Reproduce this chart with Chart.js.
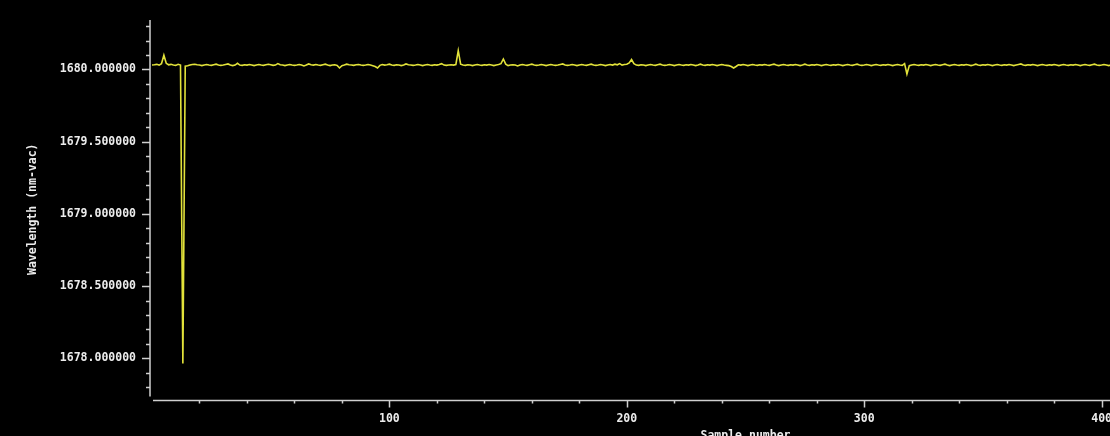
<!DOCTYPE html>
<html>
<head>
<meta charset="utf-8">
<script src="https://cdn.jsdelivr.net/npm/chart.js@4"></script>
<style>
  html, body { margin: 0; padding: 0; background: #000; overflow: hidden; }
  #wrap { width: 1353px; height: 444px; }
</style>
</head>
<body>
<div id="wrap"><canvas id="wave" width="1353" height="444"></canvas></div>
<script>
// wavelength per sample (nm-vac), sample 0..404
const wavelength = [
  1680.030, 1680.032, 1680.035, 1680.030, 1680.040, 1680.098, 1680.042, 1680.032, 1680.035, 1680.030,
  1680.028, 1680.035, 1680.030, 1677.965, 1680.022, 1680.025, 1680.030, 1680.034, 1680.036, 1680.032,
  1680.030, 1680.026, 1680.030, 1680.034, 1680.030, 1680.028, 1680.032, 1680.036, 1680.030, 1680.028,
  1680.030, 1680.034, 1680.038, 1680.030, 1680.026, 1680.030, 1680.042, 1680.030, 1680.028, 1680.032,
  1680.030, 1680.034, 1680.030, 1680.026, 1680.030, 1680.034, 1680.030, 1680.028, 1680.032, 1680.036,
  1680.032, 1680.028, 1680.030, 1680.040, 1680.032, 1680.030, 1680.026, 1680.030, 1680.034, 1680.030,
  1680.028, 1680.030, 1680.034, 1680.030, 1680.024, 1680.030, 1680.038, 1680.032, 1680.030, 1680.034,
  1680.030, 1680.028, 1680.032, 1680.036, 1680.030, 1680.026, 1680.030, 1680.032, 1680.028, 1680.010,
  1680.026, 1680.030, 1680.036, 1680.032, 1680.030, 1680.028, 1680.032, 1680.034, 1680.030, 1680.028,
  1680.030, 1680.034, 1680.030, 1680.026, 1680.020, 1680.010, 1680.028, 1680.034, 1680.030, 1680.032,
  1680.036, 1680.030, 1680.028, 1680.032, 1680.030, 1680.026, 1680.030, 1680.038, 1680.032, 1680.030,
  1680.028, 1680.030, 1680.034, 1680.030, 1680.026, 1680.030, 1680.034, 1680.030, 1680.028, 1680.032,
  1680.030, 1680.034, 1680.040, 1680.030, 1680.028, 1680.030, 1680.032, 1680.030, 1680.034, 1680.130,
  1680.036, 1680.030, 1680.028, 1680.032, 1680.030, 1680.026, 1680.030, 1680.034, 1680.030, 1680.028,
  1680.032, 1680.030, 1680.034, 1680.030, 1680.026, 1680.030, 1680.034, 1680.040, 1680.072, 1680.036,
  1680.026, 1680.030, 1680.032, 1680.030, 1680.024, 1680.030, 1680.034, 1680.030, 1680.028, 1680.032,
  1680.036, 1680.030, 1680.028, 1680.030, 1680.034, 1680.030, 1680.026, 1680.030, 1680.034, 1680.030,
  1680.028, 1680.030, 1680.034, 1680.038, 1680.030, 1680.028, 1680.030, 1680.034, 1680.030, 1680.026,
  1680.030, 1680.034, 1680.030, 1680.028, 1680.032, 1680.036, 1680.030, 1680.028, 1680.030, 1680.034,
  1680.030, 1680.026, 1680.030, 1680.034, 1680.030, 1680.036, 1680.032, 1680.040, 1680.030, 1680.034,
  1680.036, 1680.045, 1680.068, 1680.040, 1680.030, 1680.028, 1680.032, 1680.030, 1680.026, 1680.030,
  1680.034, 1680.030, 1680.028, 1680.032, 1680.036, 1680.030, 1680.028, 1680.030, 1680.034, 1680.030,
  1680.026, 1680.030, 1680.034, 1680.030, 1680.028, 1680.032, 1680.030, 1680.034, 1680.030, 1680.026,
  1680.030, 1680.036, 1680.030, 1680.028, 1680.032, 1680.030, 1680.034, 1680.030, 1680.026, 1680.030,
  1680.034, 1680.030, 1680.028, 1680.026, 1680.020, 1680.010, 1680.020, 1680.032, 1680.030, 1680.034,
  1680.030, 1680.026, 1680.030, 1680.034, 1680.030, 1680.028, 1680.032, 1680.030, 1680.034, 1680.030,
  1680.028, 1680.032, 1680.036, 1680.030, 1680.026, 1680.030, 1680.034, 1680.030, 1680.028, 1680.032,
  1680.030, 1680.034, 1680.030, 1680.026, 1680.030, 1680.036, 1680.030, 1680.028, 1680.032, 1680.030,
  1680.034, 1680.030, 1680.026, 1680.030, 1680.034, 1680.030, 1680.028, 1680.032, 1680.030, 1680.034,
  1680.030, 1680.026, 1680.030, 1680.034, 1680.030, 1680.028, 1680.032, 1680.036, 1680.030, 1680.028,
  1680.030, 1680.034, 1680.030, 1680.026, 1680.030, 1680.034, 1680.030, 1680.028, 1680.032, 1680.030,
  1680.034, 1680.030, 1680.026, 1680.030, 1680.034, 1680.030, 1680.028, 1680.040, 1679.968, 1680.026,
  1680.030, 1680.034, 1680.030, 1680.028, 1680.032, 1680.030, 1680.034, 1680.030, 1680.026, 1680.030,
  1680.034, 1680.030, 1680.028, 1680.032, 1680.036, 1680.030, 1680.026, 1680.030, 1680.034, 1680.030,
  1680.028, 1680.032, 1680.030, 1680.034, 1680.030, 1680.026, 1680.030, 1680.036, 1680.030, 1680.028,
  1680.032, 1680.030, 1680.034, 1680.030, 1680.026, 1680.030, 1680.034, 1680.030, 1680.028, 1680.032,
  1680.030, 1680.034, 1680.030, 1680.026, 1680.030, 1680.034, 1680.038, 1680.030, 1680.028, 1680.032,
  1680.030, 1680.034, 1680.030, 1680.026, 1680.030, 1680.034, 1680.030, 1680.028, 1680.032, 1680.030,
  1680.034, 1680.030, 1680.026, 1680.030, 1680.034, 1680.030, 1680.028, 1680.032, 1680.030, 1680.034,
  1680.030, 1680.026, 1680.030, 1680.034, 1680.030, 1680.028, 1680.032, 1680.036, 1680.030, 1680.028,
  1680.030, 1680.034, 1680.030, 1680.026, 1680.030
];

// labelled ticks
const xLabels = [100, 200, 300, 400];
const yLabels = [1678.0, 1678.5, 1679.0, 1679.5, 1680.0];

const axisColor = "#cfcfcf";
const textColor = "#ececec";
const monoFont = { family: "'DejaVu Sans Mono', monospace", size: 11.5, weight: "bold" };

const isLabelled = (list, v) => list.some(t => Math.abs(t - v) < 1e-6);

// draws the axis lines and tick marks (long ones at labelled ticks)
const axesPlugin = {
  id: "axes",
  afterDraw(chart) {
    const ctx = chart.ctx;
    const area = chart.chartArea;
    const xs = chart.scales.x, ys = chart.scales.y;
    ctx.save();
    ctx.strokeStyle = axisColor;
    ctx.lineWidth = 1.5;
    ctx.beginPath();
    const yLineX = area.left - 2;
    ctx.moveTo(yLineX, area.top);
    ctx.lineTo(yLineX, area.bottom - 2);
    ys.ticks.forEach(t => {
      const py = Math.round(ys.getPixelForValue(t.value)) + 0.5;
      const len = isLabelled(yLabels, t.value) ? 8 : 4;
      ctx.moveTo(yLineX, py);
      ctx.lineTo(yLineX - len, py);
    });
    const xLineY = area.bottom + 2;
    ctx.moveTo(area.left + 1, xLineY);
    ctx.lineTo(area.right, xLineY);
    xs.ticks.forEach(t => {
      const px = Math.round(xs.getPixelForValue(t.value)) + 0.5;
      const len = isLabelled(xLabels, t.value) ? 7 : 3;
      ctx.moveTo(px, xLineY);
      ctx.lineTo(px, xLineY + len);
    });
    ctx.stroke();
    ctx.restore();
  }
};

new Chart(document.getElementById("wave"), {
  type: "line",
  data: {
    datasets: [{
      label: "Wavelength",
      data: wavelength.map((v, i) => ({ x: i, y: v })),
      borderColor: "#e2e23a",
      borderWidth: 1.6,
      pointRadius: 0,
      tension: 0,
      fill: false
    }]
  },
  options: {
    responsive: false,
    animation: false,
    layout: { padding: { top: 20, right: 0, left: 0, bottom: 0 } },
    plugins: { legend: { display: false }, tooltip: { enabled: false } },
    scales: {
      x: {
        type: "linear",
        min: 0,
        max: 500,
        afterFit: s => { s.height = 45.5; },
        afterBuildTicks: s => {
          const t = [];
          for (let v = 20; v <= 500; v += 20) t.push({ value: v });
          s.ticks = t;
        },
        grid: { display: true, drawOnChartArea: false, drawTicks: false, color: "transparent" },
        border: { display: false },
        ticks: {
          autoSkip: false,
          maxRotation: 0,
          padding: 14,
          color: textColor,
          font: monoFont,
          callback: v => isLabelled(xLabels, v) ? String(v) : ""
        },
        title: {
          display: true,
          text: "Sample number",
          color: textColor,
          font: monoFont,
          padding: { top: 0, bottom: 1 }
        }
      },
      y: {
        type: "linear",
        min: 1677.722,
        max: 1680.342,
        afterFit: s => { s.width = 152; },
        afterBuildTicks: s => {
          const t = [];
          for (let k = 16778; k <= 16803; k++) t.push({ value: k / 10 });
          s.ticks = t;
        },
        grid: { display: true, drawOnChartArea: false, drawTicks: false, color: "transparent" },
        border: { display: false },
        ticks: {
          autoSkip: false,
          padding: 16,
          color: textColor,
          font: Object.assign({}, monoFont, { lineHeight: 0.6 }),
          callback: v => isLabelled(yLabels, v) ? v.toFixed(6) : ""
        },
        title: {
          display: true,
          text: "Wavelength (nm-vac)",
          color: textColor,
          font: monoFont,
          padding: { top: 26, bottom: 0 }
        }
      }
    }
  },
  plugins: [axesPlugin]
});
</script>
</body>
</html>
